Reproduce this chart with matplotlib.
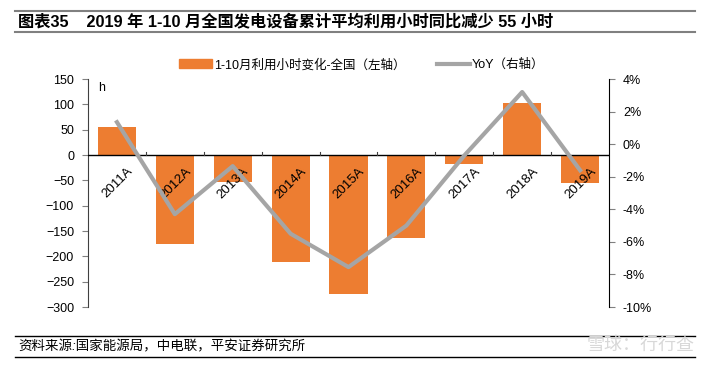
import matplotlib.pyplot as plt
from matplotlib.lines import Line2D
from matplotlib.patches import Patch
import numpy as np

plt.rcParams['font.family'] = ['Liberation Sans', 'Noto Sans CJK SC', 'DejaVu Sans']

years = ['2011A', '2012A', '2013A', '2014A', '2015A', '2016A', '2017A', '2018A', '2019A']
hours_change = [55, -175, -53, -211, -274, -164, -17, 102, -55]
yoy = [1.35, -4.3, -1.35, -5.5, -7.55, -5.0, -0.7, 3.2, -1.6]

orange = '#ED7D31'
grey = '#A5A5A5'

fig = plt.figure(figsize=(7.07, 3.66), dpi=100)
ax = fig.add_axes([88/707, 1-307/366, (609-88)/707, 228/366])
x = np.arange(len(years))
ax.bar(x, hours_change, width=0.66, color=orange, zorder=2)
ax.set_xlim(-0.5, len(years)-0.5)
ax.set_ylim(-300, 150)
ax.set_yticks(np.arange(-300, 151, 50))
ax.axhline(0, color='black', lw=1.0, zorder=3)
for s in ['top', 'bottom', 'right']:
    ax.spines[s].set_visible(False)
ax.spines['left'].set_color('#404040')
ax.tick_params(axis='y', direction='out', length=4, color='#808080', labelsize=9, pad=6)
ax.set_xticks([])
# category separators on zero line
for b in np.arange(0.5, len(years)-1, 1.0):
    ax.plot([b, b], [0, 5], color='#404040', lw=0.8, zorder=3)
for i, lab in enumerate(years):
    ax.text(i + 0.17, -20, lab, rotation=45, ha='right', va='top', fontsize=9.5,
            rotation_mode='anchor', zorder=4)
ax.text(0.02, 145, 'h', transform=ax.get_yaxis_transform(), fontsize=9, va='top')

ax2 = ax.twinx()
ax2.plot(x, yoy, color=grey, lw=3, zorder=5)
ax2.set_ylim(-10, 4)
ax2.set_yticks(np.arange(-10, 5, 2))
ax2.set_yticklabels(['%d%%' % v for v in range(-10, 5, 2)])
for s in ['top', 'bottom', 'left']:
    ax2.spines[s].set_visible(False)
ax2.spines['right'].set_color('black')
ax2.tick_params(axis='y', direction='out', length=4, color='#808080', labelsize=9, pad=6)

handles = [Patch(color=orange), Line2D([0], [0], color=grey, lw=3)]
fig.legend(handles, ['1-10月利用小时变化-全国（左轴）', 'YoY（右轴）'],
           loc='center left', bbox_to_anchor=(168/707, 1-65/366), ncol=2, frameon=False,
           fontsize=9, handlelength=2.6, handletextpad=0.2, columnspacing=2.5)

# title and frame lines
fig.add_artist(Line2D([15/707, 695/707], [1-11/366, 1-11/366], color='#808080', lw=1.5))
fig.add_artist(Line2D([15/707, 695/707], [1-32/366, 1-32/366], color='#808080', lw=1.5))
fig.text(18/707, 1-21/366, '图表35    2019 年 1-10 月全国发电设备累计平均利用小时同比减少 55 小时',
         fontsize=11.7, fontweight='bold', va='center')
fig.add_artist(Line2D([15/707, 695/707], [1-336/366, 1-336/366], color='black', lw=1.0))
fig.add_artist(Line2D([15/707, 695/707], [1-357/366, 1-357/366], color='black', lw=1.0))
fig.text(18/707, 1-347/366, '资料来源:国家能源局，中电联，平安证券研究所', fontsize=9.7,
         style='italic', va='center')
fig.text(695/707, 1-345/366, '雪球：行行查', fontsize=13, color='#D8D8D8', ha='right', va='center')

fig.savefig('out.png', dpi=100)
